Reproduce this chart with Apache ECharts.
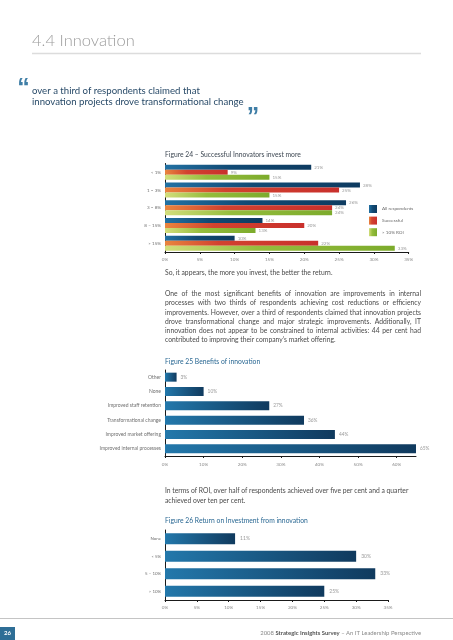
<!DOCTYPE html>
<html><head><meta charset="utf-8">
<script src="https://cdn.jsdelivr.net/npm/echarts@6/dist/echarts.min.js"></script>
<style>html,body{margin:0;padding:0;background:#fff}#c{width:453px;height:640px}</style>
</head><body><div id="c"></div>
<script>
// ---------- data ----------
const f24Categories = ['< 1%', '1 – 3%', '3 – 8%', '8 – 15%', '> 15%'];
const f24All = [21, 28, 26, 14, 10];
const f24Successful = [9, 25, 24, 20, 22];
const f24Roi = [15, 15, 24, 13, 33];
const f24SeriesNames = ['All respondents', 'Successful', '> 10% ROI'];

const f25Categories = ['Other', 'None', 'Improved staff retention', 'Transformational change', 'Improved market offering', 'Improved internal processes'];
const f25Values = [3, 10, 27, 36, 44, 65];

const f26Categories = ['None', '< 5%', '5 – 10%', '> 10%'];
const f26Values = [11, 30, 33, 25];

const para1 = [
  'One of the most significant benefits of innovation are improvements in internal',
  'processes with two thirds of respondents achieving cost reductions or efficiency',
  'improvements. However, over a third of respondents claimed that innovation projects',
  'drove transformational change and major strategic improvements. Additionally, IT',
  'innovation does not appear to be constrained to internal activities: 44 per cent had',
  'contributed to improving their company\u2019s market offering.'
];
const para2 = [
  'In terms of ROI, over half of respondents achieved over five per cent and a quarter',
  'achieved over ten per cent.'
];

// ---------- styles ----------
const FONT = 'Lato';
const bodySize = 6.75;
const bodyColor = '#4a4a4a';
const tickColor = '#8a8a8a';
const catColor = '#707070';

function hGrad(stops) {
  return new echarts.graphic.LinearGradient(0, 0, 1, 0, stops.map((c) => ({offset: c[0], color: c[1]})));
}
const blue24 = hGrad([[0, '#2271a3'], [0.45, '#114a74'], [1, '#0e3b60']]);
const red24 = hGrad([[0, '#e9853e'], [0.35, '#d2422f'], [1, '#c9302c']]);
const green24 = hGrad([[0, '#d3de7c'], [0.4, '#95bd3c'], [1, '#7cab2c']]);
const blueBar = hGrad([[0, '#2378ab'], [1, '#103a5e']]);

const cv = document.createElement('canvas').getContext('2d');
function measure(t, size, weight) { cv.font = (weight || 'normal') + ' ' + size + 'px ' + FONT; return cv.measureText(t).width; }

const graphics = [];
function txt(x, y, text, o) {
  o = o || {};
  graphics.push({type: 'text', x: x, y: y, silent: true, style: {
    text: text, fontSize: o.size || bodySize, fontFamily: o.family || FONT, fontWeight: o.weight || 'normal',
    fill: o.color || bodyColor, textAlign: o.align || 'left', textVerticalAlign: o.valign || 'middle'
  }});
}
function justify(line, x0, x1, y, o) {
  const words = line.split(' ');
  const ws = words.map(w => measure(w, o.size || bodySize));
  const total = ws.reduce((a, b) => a + b, 0);
  const gap = (x1 - x0 - total) / (words.length - 1);
  let x = x0;
  words.forEach((w, i) => { txt(x, y, w, o); x += ws[i] + gap; });
}

// header
txt(32, 41, '4.4 Innovation', {size: 16.5, color: '#9c9c9c', weight: 300});
graphics.push({type: 'line', silent: true, shape: {x1: 32, y1: 53.5, x2: 421, y2: 53.5}, style: {stroke: '#dcdcdc', lineWidth: 1.5}});
// quote
txt(23.5, 89.5, '\u201C', {size: 25, color: '#3f7ea6', weight: 'bold', family: 'Liberation Sans', align: 'center'});
txt(32, 91, 'over a third of respondents claimed that', {size: 9.6, color: '#284a68'});
txt(32, 101.7, 'innovation projects drove transformational change', {size: 9.6, color: '#284a68'});
txt(253, 118, '\u201D', {size: 25, color: '#3f7ea6', weight: 'bold', family: 'Liberation Sans', align: 'center'});

// figure titles and body
txt(165, 154.7, 'Figure 24 \u2013 Successful Innovators invest more', {size: 6.75, color: '#3d4752'});
txt(165, 272.7, 'So, it appears, the more you invest, the better the return.', {size: bodySize});
para1.forEach((l, i) => {
  const y = 294 + i * 9.2;
  if (i < para1.length - 1) justify(l, 165, 421, y, {}); else txt(165, y, l);
});
txt(165, 362, 'Figure 25 Benefits of innovation', {size: 6.75, color: '#2a6893'});
para2.forEach((l, i) => txt(165, 491 + i * 10.2, l));
txt(165, 521.3, 'Figure 26 Return on Investment from innovation', {size: 6.75, color: '#2a6893'});

// footer
graphics.push({type: 'line', silent: true, shape: {x1: 0, y1: 618.5, x2: 453, y2: 618.5}, style: {stroke: '#c4c4c4', lineWidth: 1}});
graphics.push({type: 'rect', silent: true, shape: {x: 0, y: 627, width: 15, height: 13}, style: {fill: '#2e6e96'}});
txt(7.5, 633.5, '26', {size: 6, color: '#ffffff', weight: 'bold', align: 'center'});
graphics.push({type: 'text', x: 421, y: 633, silent: true, style: {
  text: '{a|2008 }{b|Strategic Insights Survey}{a| \u2013 An IT Leadership Perspective}',
  textAlign: 'right', textVerticalAlign: 'middle', fontFamily: FONT,
  rich: {a: {fontSize: 5.9, fill: '#8a8a8a', color: '#8a8a8a', fontFamily: FONT},
         b: {fontSize: 5.9, fill: '#555', color: '#555', fontWeight: 'bold', fontFamily: FONT}}
}});

// ---------- axes ----------
function xAx(gi, max, interval, margin) {
  return {gridIndex: gi, type: 'value', min: 0, max: max, interval: interval,
    axisLine: {show: true, lineStyle: {color: '#1a1a1a', width: 1}},
    axisTick: {show: true, length: 2, lineStyle: {color: '#1a1a1a'}},
    splitLine: {show: false},
    axisLabel: {formatter: '{value}%', fontSize: 4.6, color: tickColor, margin: margin, fontFamily: FONT, showMaxLabel: max % interval === 0}};
}
function yAx(gi, data, size) {
  return {gridIndex: gi, type: 'category', data: data, inverse: true,
    axisLine: {show: true, lineStyle: {color: '#1a1a1a', width: 1}},
    axisTick: {show: false},
    axisLabel: {fontSize: size, color: catColor, margin: 4, fontFamily: FONT}};
}
function lbl(size, dist) {
  return {show: true, position: 'right', distance: dist, formatter: '{c}%', fontSize: size, color: '#9a9a9a', fontFamily: FONT};
}

const chart = echarts.init(document.getElementById('c'), null, {renderer: 'canvas'});
chart.setOption({
  animation: false,
  backgroundColor: '#ffffff',
  grid: [
    {left: 165, top: 163.5, width: 243.7, height: 88.5},
    {left: 165, top: 370, width: 251, height: 86},
    {left: 165, top: 530, width: 223, height: 70}
  ],
  xAxis: [xAx(0, 35, 5, 5), xAx(1, 65, 10, 6), xAx(2, 35, 5, 5)],
  yAxis: [yAx(0, f24Categories, 4.6), yAx(1, f25Categories, 5), yAx(2, f26Categories, 4.4)],
  legend: {data: f24SeriesNames, orient: 'vertical', left: 364, top: 200, itemWidth: 8, itemHeight: 8, itemGap: 3.6,
    icon: 'rect', textStyle: {fontSize: 4.6, color: '#6a6a6a', fontFamily: FONT}, selectedMode: false},
  series: [
    {name: f24SeriesNames[0], type: 'bar', xAxisIndex: 0, yAxisIndex: 0, data: f24All, barWidth: 5, barGap: '0%', itemStyle: {color: blue24}, label: lbl(4.5, 3)},
    {name: f24SeriesNames[1], type: 'bar', xAxisIndex: 0, yAxisIndex: 0, data: f24Successful, barWidth: 5, barGap: '0%', itemStyle: {color: red24}, label: lbl(4.5, 3)},
    {name: f24SeriesNames[2], type: 'bar', xAxisIndex: 0, yAxisIndex: 0, data: f24Roi, barWidth: 5, barGap: '0%', itemStyle: {color: green24}, label: lbl(4.5, 3)},
    {name: 'Benefits', type: 'bar', xAxisIndex: 1, yAxisIndex: 1, data: f25Values, barWidth: 9, itemStyle: {color: blueBar}, label: lbl(4.8, 4)},
    {name: 'ROI', type: 'bar', xAxisIndex: 2, yAxisIndex: 2, data: f26Values, barWidth: 11, itemStyle: {color: blueBar}, label: lbl(5, 5)}
  ],
  graphic: graphics
});
</script></body></html>
